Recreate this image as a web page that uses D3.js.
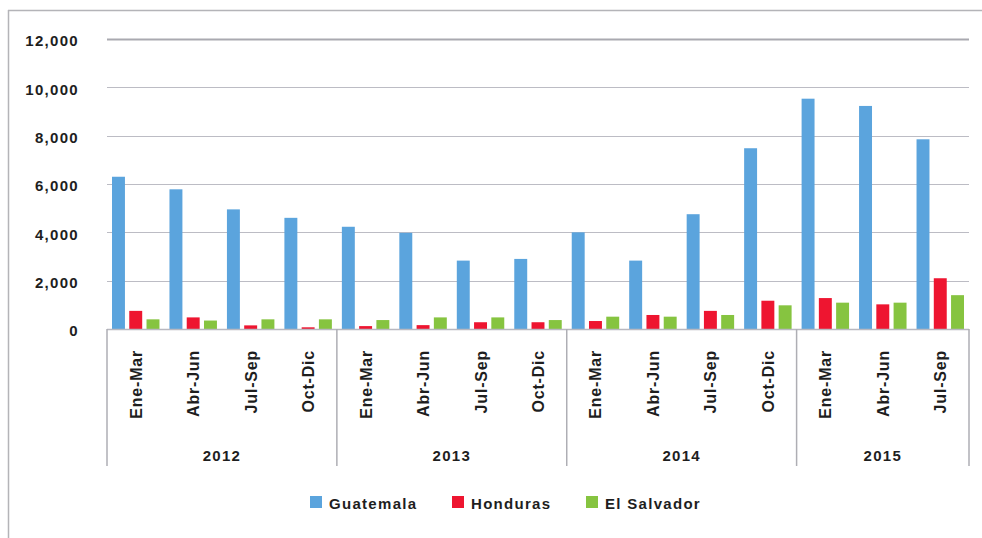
<!DOCTYPE html>
<html>
<head>
<meta charset="utf-8">
<script src="https://cdn.jsdelivr.net/npm/d3@7"></script>
<style>
  html, body { margin: 0; padding: 0; background: #fff; }
  svg { display: block; font-family: "Liberation Sans", Arial, sans-serif; }
</style>
</head>
<body>
<svg id="chart" width="982" height="538"></svg>
<script>
// quarters per year (2015 only has three)
const years = ['2012', '2013', '2014', '2015'];
const periods = [
  ['2012', 'Ene-Mar'], ['2012', 'Abr-Jun'], ['2012', 'Jul-Sep'], ['2012', 'Oct-Dic'],
  ['2013', 'Ene-Mar'], ['2013', 'Abr-Jun'], ['2013', 'Jul-Sep'], ['2013', 'Oct-Dic'],
  ['2014', 'Ene-Mar'], ['2014', 'Abr-Jun'], ['2014', 'Jul-Sep'], ['2014', 'Oct-Dic'],
  ['2015', 'Ene-Mar'], ['2015', 'Abr-Jun'], ['2015', 'Jul-Sep']
];
const seriesNames = ['Guatemala', 'Honduras', 'El Salvador'];
const guatemala = [6300, 5780, 4950, 4600, 4230, 3980, 2830, 2900, 4000, 2830, 4750, 7480, 9530, 9230, 7850];
const honduras  = [750, 480, 150, 70, 120, 160, 280, 280, 330, 580, 750, 1170, 1280, 1020, 2100];
const elSalvador = [400, 350, 400, 400, 370, 480, 480, 370, 510, 510, 580, 980, 1090, 1090, 1400];
const yTicks = [0, 2000, 4000, 6000, 8000, 10000, 12000];
const colors = ['#5ba4dd', '#ee1530', '#86c440'];

const svg = d3.select('#chart');
const plotLeft = 107, plotRight = 969, plotTop = 39, plotBottom = 329;
const labelFont = '15px';

// outer frame (top + left edges only)
svg.append('line').attr('x1', 8).attr('x2', 982).attr('y1', 10.5).attr('y2', 10.5)
  .attr('stroke', '#b4b4b8').attr('stroke-width', 1.5);
svg.append('line').attr('x1', 8.5).attr('x2', 8.5).attr('y1', 10).attr('y2', 538)
  .attr('stroke', '#b4b4b8').attr('stroke-width', 1.5);

const y = d3.scaleLinear().domain([0, 12000]).range([plotBottom, plotTop]);
const ids = periods.map((p, i) => i);
const x0 = d3.scaleBand().domain(ids).range([plotLeft, plotRight]).padding(0);
const x1 = d3.scaleBand().domain(seriesNames).range([5, x0.bandwidth() - 5]).paddingInner(0.25);

// gridlines
svg.append('g').selectAll('line')
  .data(yTicks.filter(t => t > 0))
  .join('line')
  .attr('x1', plotLeft).attr('x2', plotRight)
  .attr('y1', d => Math.round(y(d)) + 0.5).attr('y2', d => Math.round(y(d)) + 0.5)
  .attr('stroke', d => d === 12000 ? '#a9a9b0' : '#bcbcc4')
  .attr('stroke-width', d => d === 12000 ? 2 : 1.2);

// y tick labels
svg.append('g').selectAll('text')
  .data(yTicks)
  .join('text')
  .attr('x', 79).attr('y', d => y(d) + 2)
  .attr('dy', '0.35em')
  .attr('text-anchor', 'end')
  .attr('font-size', labelFont).attr('font-weight', 'bold')
  .attr('letter-spacing', '1.3px')
  .attr('fill', '#1e1e1e')
  .text(d => d3.format(',')(d));

// bars
const allSeries = [guatemala, honduras, elSalvador];
allSeries.forEach((vals, si) => {
  svg.append('g').selectAll('rect')
    .data(vals)
    .join('rect')
    .attr('x', (d, i) => x0(i) + x1(seriesNames[si]))
    .attr('width', x1.bandwidth())
    .attr('y', d => y(d))
    .attr('height', d => y(0) - y(d))
    .attr('fill', colors[si]);
});

// x axis line
svg.append('line').attr('x1', plotLeft).attr('x2', plotRight)
  .attr('y1', plotBottom + 0.5).attr('y2', plotBottom + 0.5)
  .attr('stroke', '#b8b8c0').attr('stroke-width', 1.5);

// year groups
const yearStart = years.map(yr => periods.findIndex(p => p[0] === yr));
const yearEnd = years.map(yr => periods.length - 1 - periods.slice().reverse().findIndex(p => p[0] === yr));
const bounds = yearStart.map(i => x0(i)).concat([plotRight]);
svg.append('g').selectAll('line')
  .data(bounds)
  .join('line')
  .attr('x1', d => d).attr('x2', d => d)
  .attr('y1', plotBottom).attr('y2', 466)
  .attr('stroke', '#aeaeb4').attr('stroke-width', 1.5);

// quarter labels (rotated)
svg.append('g').selectAll('text')
  .data(periods)
  .join('text')
  .attr('transform', (d, i) => `translate(${x0(i) + x0.bandwidth() / 2 + 6},350) rotate(-90)`)
  .attr('text-anchor', 'end')
  .attr('font-size', '16px').attr('font-weight', 'bold')
  .attr('letter-spacing', '0.8px')
  .attr('fill', '#1e1e1e')
  .text(d => d[1]);

// year labels
svg.append('g').selectAll('text')
  .data(years)
  .join('text')
  .attr('x', (d, i) => (x0(yearStart[i]) + x0(yearEnd[i]) + x0.bandwidth()) / 2)
  .attr('y', 456)
  .attr('dy', '0.35em')
  .attr('text-anchor', 'middle')
  .attr('font-size', labelFont).attr('font-weight', 'bold')
  .attr('letter-spacing', '1.3px')
  .attr('fill', '#1e1e1e')
  .text(d => d);

// legend
const legendX = [310, 452, 586];
const legend = svg.append('g').selectAll('g')
  .data(seriesNames)
  .join('g')
  .attr('transform', (d, i) => `translate(${legendX[i]},497)`);
legend.append('rect').attr('width', 12).attr('height', 12).attr('y', -1)
  .attr('fill', (d, i) => colors[i]);
legend.append('text')
  .attr('x', 19).attr('y', 7).attr('dy', '0.35em')
  .attr('font-size', labelFont).attr('font-weight', 'bold')
  .attr('letter-spacing', '1.3px')
  .attr('fill', '#1e1e1e')
  .text(d => d);
</script>
</body>
</html>
